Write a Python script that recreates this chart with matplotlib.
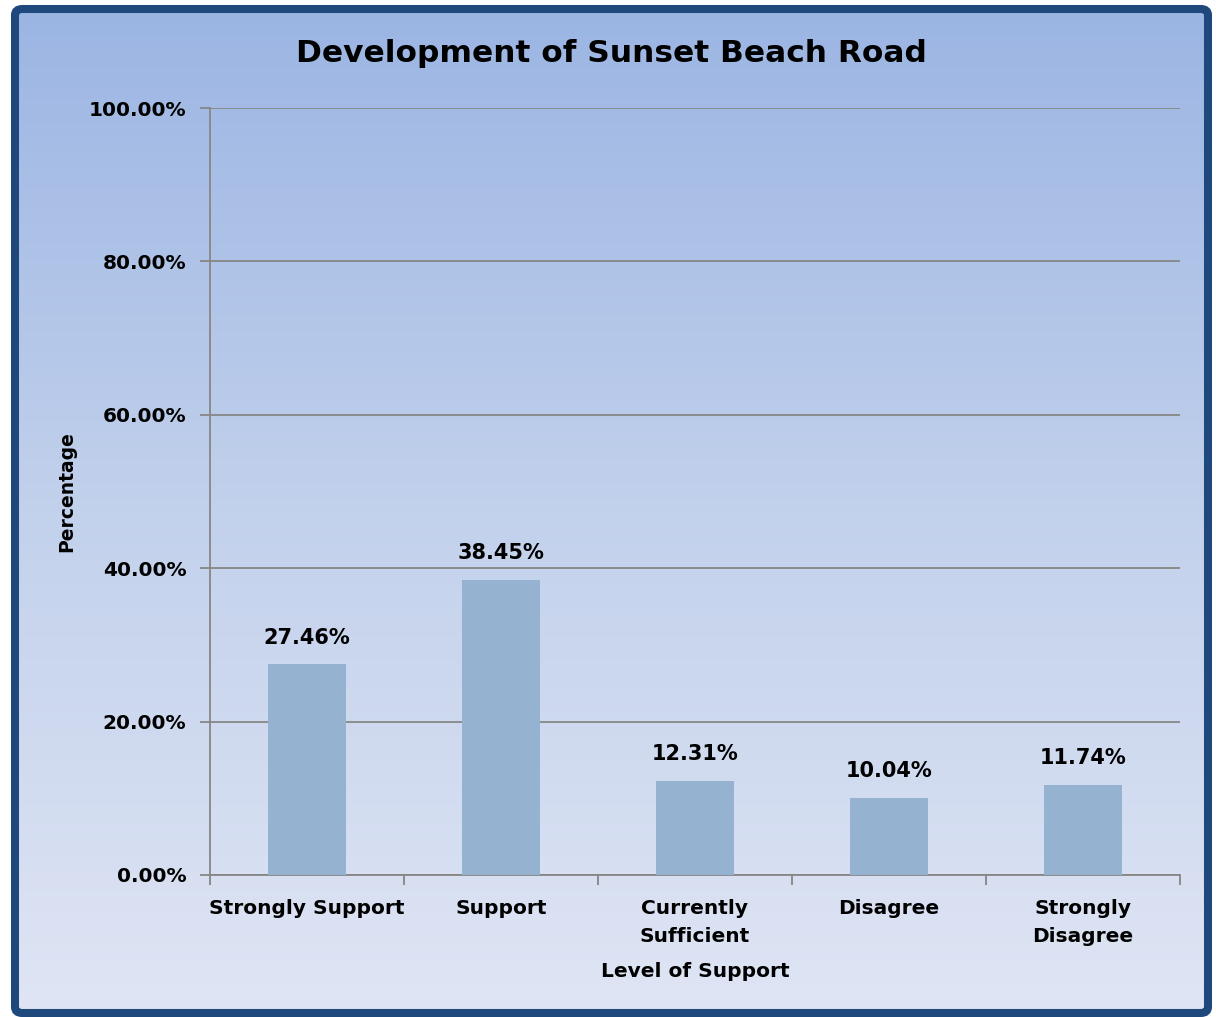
import numpy as np
import matplotlib
matplotlib.use("Agg")
from matplotlib import pyplot as plt
from matplotlib.patches import FancyBboxPatch
from matplotlib.colors import LinearSegmentedColormap
from matplotlib.ticker import FuncFormatter

categories = ["Strongly Support", "Support", "Currently\nSufficient", "Disagree", "Strongly\nDisagree"]
values = [27.46, 38.45, 12.31, 10.04, 11.74]
yticks = [0, 20, 40, 60, 80, 100]

plt.rcParams['font.family'] = ['DejaVu Sans']
plt.rcParams['font.weight'] = 'bold'

W, H = 1216, 1017
fig = plt.figure(figsize=(W / 100, H / 100), dpi=100, facecolor="white")

# frame box in pixels (centre of the border line)
fx0, fx1, fy0, fy1 = 15, 1208, 9, 1013

# background gradient inside the frame
bg = fig.add_axes([fx0 / W, 1 - fy1 / H, (fx1 - fx0) / W, (fy1 - fy0) / H], zorder=0)
cmap = LinearSegmentedColormap.from_list("bg", ["#dfe5f4", "#c2d1ec", "#9bb5e3"])
grad = np.linspace(0, 1, 256).reshape(-1, 1)
bg.imshow(grad, aspect="auto", cmap=cmap, origin="lower", extent=[0, 1, 0, 1])
bg.set_xlim(0, 1)
bg.set_ylim(0, 1)
bg.axis("off")
frame = FancyBboxPatch((fx0 / W, 1 - fy1 / H), (fx1 - fx0) / W, (fy1 - fy0) / H,
                       boxstyle="round,pad=0,rounding_size=0.006",
                       transform=fig.transFigure, fill=False,
                       edgecolor="#1f497d", linewidth=5.8, zorder=5)
fig.patches.append(frame)

ax = fig.add_axes([210 / W, 1 - 875 / H, 970 / W, 767 / H], zorder=1)
ax.patch.set_alpha(0)
x = np.arange(len(categories))
bars = ax.bar(x, values, width=0.4, color="#95b3d0", zorder=3)

ax.set_ylim(0, 100)
ax.set_xlim(-0.5, len(categories) - 0.5)
ax.set_yticks(yticks)
ax.yaxis.set_major_formatter(FuncFormatter(lambda v, p: "%.2f%%" % v))
ax.yaxis.grid(True, color="#868686", linewidth=1.3, zorder=1)
ax.tick_params(axis="y", length=7, width=1.3, color="#868686", labelsize=14.5, pad=10)

ax.set_xticks(np.arange(len(categories) + 1) - 0.5)
ax.set_xticklabels([])
ax.set_xticks(x, minor=True)
ax.set_xticklabels(categories, minor=True, fontsize=14.5, linespacing=1.6)
ax.tick_params(axis="x", which="major", length=7, width=1.3, color="#868686")
ax.tick_params(axis="x", which="minor", length=0, pad=17)

for s in ["top", "right"]:
    ax.spines[s].set_visible(False)
for s in ["left", "bottom"]:
    ax.spines[s].set_color("#868686")
    ax.spines[s].set_linewidth(1.3)

for b, v in zip(bars, values):
    ax.annotate("%.2f%%" % v, (b.get_x() + b.get_width() / 2, v),
                xytext=(0, 12), textcoords="offset points",
                ha="center", va="bottom", fontsize=15, fontweight="bold")

ax.set_ylabel("Percentage", fontsize=13.5, fontweight="bold", labelpad=9)
ax.set_xlabel("Level of Support", fontsize=14.5, fontweight="bold", labelpad=12)
fig.text(0.503, 1 - 53 / H, "Development of Sunset Beach Road", ha="center", va="center",
         fontsize=22.5, fontweight="bold")

fig.savefig("out.png", dpi=100, facecolor="white")
